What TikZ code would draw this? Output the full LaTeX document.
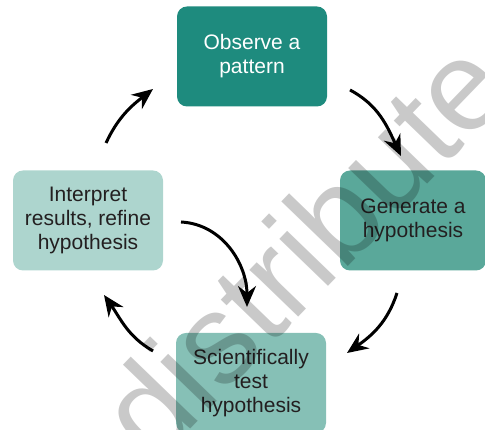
\documentclass[tikz,border=0pt]{standalone}
\usepackage{fontspec}
\setmainfont{Liberation Sans}
\usetikzlibrary{arrows.meta}
\definecolor{teal_dark}{HTML}{1E8B7E}
\definecolor{teal_mid}{HTML}{5AA89A}
\definecolor{teal_soft}{HTML}{86C0B6}
\definecolor{teal_light}{HTML}{ADD5CE}
\definecolor{text_dark}{HTML}{231F20}
\tikzstyle{box_base} = [rounded corners=10pt, minimum width=150pt, minimum height=100pt, inner sep=0pt, align=center, font=\fontsize{21}{24}\selectfont, text=text_dark]
\tikzstyle{box_observe} = [box_base, fill=teal_dark, text=white]
\tikzstyle{box_generate} = [box_base, fill=teal_mid, minimum width=146pt]
\tikzstyle{box_test} = [box_base, fill=teal_soft]
\tikzstyle{box_interpret} = [box_base, fill=teal_light]
\tikzstyle{edge_cycle} = [line width=3pt, -{Stealth[length=21pt,width=18pt,inset=7pt]}]
\tikzstyle{mark_water} = [rotate=46, text=black, opacity=0.21, font=\fontsize{128}{128}\selectfont, inner sep=0pt]

\begin{document}
\begin{tikzpicture}[x=1pt,y=1pt]
		\useasboundingbox (0,0) rectangle (485,430);
		\clip (0,0) rectangle (485,430);
		\node (O) at (252,373.5) [box_observe] {Observe a\\pattern};
		\node (G) at (413,209.5) [box_generate] {Generate a\\hypothesis};
		\node (T) at (251,47) [box_test] {Scientifically\\test\\hypothesis};
		\node (I) at (88,209.5) [box_interpret] {Interpret\\results, refine\\hypothesis};
		
		\coordinate (a1s) at (106,287); \coordinate (a1e) at (153,341);
		\coordinate (a2s) at (350,340); \coordinate (a2e) at (401,274);
		\coordinate (a3s) at (397,137); \coordinate (a3e) at (347,77);
		\coordinate (a4s) at (153,79);  \coordinate (a4e) at (104,135);
		\coordinate (a5s) at (181,208); \coordinate (a5e) at (247,123);
		
		\draw[edge_cycle] (a1s) to[out=65,in=218] (a1e);
		\draw[edge_cycle] (a2s) to[out=-28,in=115] (a2e);
		\draw[edge_cycle] (a3s) to[out=-108,in=35] (a3e);
		\draw[edge_cycle] (a4s) to[out=150,in=-55] (a4e);
		\draw[edge_cycle] (a5s) to[out=-3,in=90] (a5e);
		
		\node (W) at (302,182) [mark_water] {distribute};
		\end{tikzpicture}
\end{document}
